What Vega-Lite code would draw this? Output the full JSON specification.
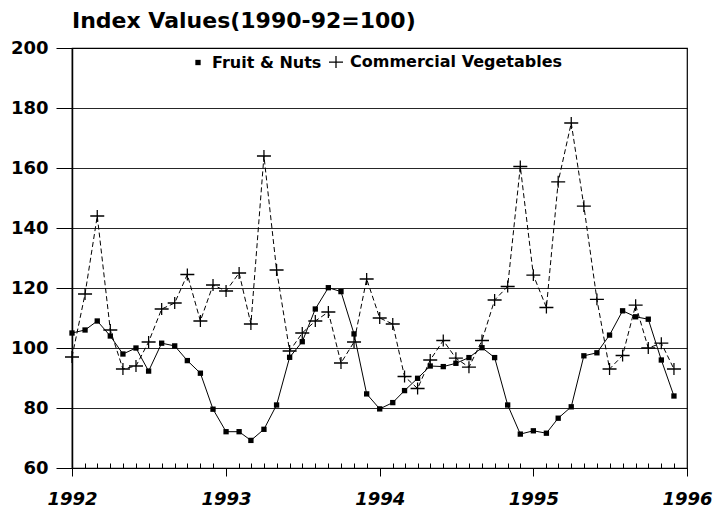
{
  "$schema": "https://vega.github.io/schema/vega-lite/v6.json",
  "width": 615,
  "height": 420,
  "autosize": "none",
  "padding": {"left": 72, "top": 48, "right": 26, "bottom": 48},
  "background": "white",
  "title": {"text": "Index Values(1990-92=100)", "anchor": "start", "frame": "group", "font": "DejaVu Sans", "fontSize": 22, "fontWeight": "bold", "color": "black", "offset": 6},
  "data": {"values": [
    {"date": "1992-01-01", "series": "Fruit & Nuts", "value": 105},
    {"date": "1992-02-01", "series": "Fruit & Nuts", "value": 106},
    {"date": "1992-03-01", "series": "Fruit & Nuts", "value": 109},
    {"date": "1992-04-01", "series": "Fruit & Nuts", "value": 104},
    {"date": "1992-05-01", "series": "Fruit & Nuts", "value": 98},
    {"date": "1992-06-01", "series": "Fruit & Nuts", "value": 100},
    {"date": "1992-07-01", "series": "Fruit & Nuts", "value": 92.3},
    {"date": "1992-08-01", "series": "Fruit & Nuts", "value": 101.6},
    {"date": "1992-09-01", "series": "Fruit & Nuts", "value": 100.7},
    {"date": "1992-10-01", "series": "Fruit & Nuts", "value": 95.8},
    {"date": "1992-11-01", "series": "Fruit & Nuts", "value": 91.6},
    {"date": "1992-12-01", "series": "Fruit & Nuts", "value": 79.6},
    {"date": "1993-01-01", "series": "Fruit & Nuts", "value": 72.1},
    {"date": "1993-02-01", "series": "Fruit & Nuts", "value": 72.1},
    {"date": "1993-03-01", "series": "Fruit & Nuts", "value": 69.2},
    {"date": "1993-04-01", "series": "Fruit & Nuts", "value": 72.9},
    {"date": "1993-05-01", "series": "Fruit & Nuts", "value": 81},
    {"date": "1993-06-01", "series": "Fruit & Nuts", "value": 96.9},
    {"date": "1993-07-01", "series": "Fruit & Nuts", "value": 102.1},
    {"date": "1993-08-01", "series": "Fruit & Nuts", "value": 113},
    {"date": "1993-09-01", "series": "Fruit & Nuts", "value": 120.1},
    {"date": "1993-10-01", "series": "Fruit & Nuts", "value": 118.8},
    {"date": "1993-11-01", "series": "Fruit & Nuts", "value": 104.7},
    {"date": "1993-12-01", "series": "Fruit & Nuts", "value": 84.7},
    {"date": "1994-01-01", "series": "Fruit & Nuts", "value": 79.7},
    {"date": "1994-02-01", "series": "Fruit & Nuts", "value": 81.8},
    {"date": "1994-03-01", "series": "Fruit & Nuts", "value": 85.8},
    {"date": "1994-04-01", "series": "Fruit & Nuts", "value": 89.9},
    {"date": "1994-05-01", "series": "Fruit & Nuts", "value": 94},
    {"date": "1994-06-01", "series": "Fruit & Nuts", "value": 93.8},
    {"date": "1994-07-01", "series": "Fruit & Nuts", "value": 94.9},
    {"date": "1994-08-01", "series": "Fruit & Nuts", "value": 96.8},
    {"date": "1994-09-01", "series": "Fruit & Nuts", "value": 100.1},
    {"date": "1994-10-01", "series": "Fruit & Nuts", "value": 96.8},
    {"date": "1994-11-01", "series": "Fruit & Nuts", "value": 81},
    {"date": "1994-12-01", "series": "Fruit & Nuts", "value": 71.3},
    {"date": "1995-01-01", "series": "Fruit & Nuts", "value": 72.4},
    {"date": "1995-02-01", "series": "Fruit & Nuts", "value": 71.6},
    {"date": "1995-03-01", "series": "Fruit & Nuts", "value": 76.6},
    {"date": "1995-04-01", "series": "Fruit & Nuts", "value": 80.4},
    {"date": "1995-05-01", "series": "Fruit & Nuts", "value": 97.4},
    {"date": "1995-06-01", "series": "Fruit & Nuts", "value": 98.4},
    {"date": "1995-07-01", "series": "Fruit & Nuts", "value": 104.3},
    {"date": "1995-08-01", "series": "Fruit & Nuts", "value": 112.4},
    {"date": "1995-09-01", "series": "Fruit & Nuts", "value": 110.4},
    {"date": "1995-10-01", "series": "Fruit & Nuts", "value": 109.6},
    {"date": "1995-11-01", "series": "Fruit & Nuts", "value": 96},
    {"date": "1995-12-01", "series": "Fruit & Nuts", "value": 84},
    {"date": "1992-01-01", "series": "Commercial Vegetables", "value": 97},
    {"date": "1992-02-01", "series": "Commercial Vegetables", "value": 118},
    {"date": "1992-03-01", "series": "Commercial Vegetables", "value": 144},
    {"date": "1992-04-01", "series": "Commercial Vegetables", "value": 106},
    {"date": "1992-05-01", "series": "Commercial Vegetables", "value": 93},
    {"date": "1992-06-01", "series": "Commercial Vegetables", "value": 94},
    {"date": "1992-07-01", "series": "Commercial Vegetables", "value": 102},
    {"date": "1992-08-01", "series": "Commercial Vegetables", "value": 113},
    {"date": "1992-09-01", "series": "Commercial Vegetables", "value": 115},
    {"date": "1992-10-01", "series": "Commercial Vegetables", "value": 124.5},
    {"date": "1992-11-01", "series": "Commercial Vegetables", "value": 109},
    {"date": "1992-12-01", "series": "Commercial Vegetables", "value": 121},
    {"date": "1993-01-01", "series": "Commercial Vegetables", "value": 119},
    {"date": "1993-02-01", "series": "Commercial Vegetables", "value": 125},
    {"date": "1993-03-01", "series": "Commercial Vegetables", "value": 108},
    {"date": "1993-04-01", "series": "Commercial Vegetables", "value": 164},
    {"date": "1993-05-01", "series": "Commercial Vegetables", "value": 126},
    {"date": "1993-06-01", "series": "Commercial Vegetables", "value": 99},
    {"date": "1993-07-01", "series": "Commercial Vegetables", "value": 105},
    {"date": "1993-08-01", "series": "Commercial Vegetables", "value": 109},
    {"date": "1993-09-01", "series": "Commercial Vegetables", "value": 112},
    {"date": "1993-10-01", "series": "Commercial Vegetables", "value": 95},
    {"date": "1993-11-01", "series": "Commercial Vegetables", "value": 102},
    {"date": "1993-12-01", "series": "Commercial Vegetables", "value": 123},
    {"date": "1994-01-01", "series": "Commercial Vegetables", "value": 110},
    {"date": "1994-02-01", "series": "Commercial Vegetables", "value": 108},
    {"date": "1994-03-01", "series": "Commercial Vegetables", "value": 90.5},
    {"date": "1994-04-01", "series": "Commercial Vegetables", "value": 86.5},
    {"date": "1994-05-01", "series": "Commercial Vegetables", "value": 96},
    {"date": "1994-06-01", "series": "Commercial Vegetables", "value": 102.5},
    {"date": "1994-07-01", "series": "Commercial Vegetables", "value": 96.6},
    {"date": "1994-08-01", "series": "Commercial Vegetables", "value": 93.6},
    {"date": "1994-09-01", "series": "Commercial Vegetables", "value": 102.5},
    {"date": "1994-10-01", "series": "Commercial Vegetables", "value": 116},
    {"date": "1994-11-01", "series": "Commercial Vegetables", "value": 120.5},
    {"date": "1994-12-01", "series": "Commercial Vegetables", "value": 160.5},
    {"date": "1995-01-01", "series": "Commercial Vegetables", "value": 124.3},
    {"date": "1995-02-01", "series": "Commercial Vegetables", "value": 113.5},
    {"date": "1995-03-01", "series": "Commercial Vegetables", "value": 155.4},
    {"date": "1995-04-01", "series": "Commercial Vegetables", "value": 175},
    {"date": "1995-05-01", "series": "Commercial Vegetables", "value": 147.3},
    {"date": "1995-06-01", "series": "Commercial Vegetables", "value": 116.2},
    {"date": "1995-07-01", "series": "Commercial Vegetables", "value": 93},
    {"date": "1995-08-01", "series": "Commercial Vegetables", "value": 97.5},
    {"date": "1995-09-01", "series": "Commercial Vegetables", "value": 114.3},
    {"date": "1995-10-01", "series": "Commercial Vegetables", "value": 100},
    {"date": "1995-11-01", "series": "Commercial Vegetables", "value": 101.6},
    {"date": "1995-12-01", "series": "Commercial Vegetables", "value": 93}
  ]},
  "encoding": {
    "x": {
      "field": "date", "type": "temporal",
      "scale": {"type": "utc", "domain": [{"year": 1992, "month": 1, "date": 1, "utc": true}, {"year": 1996, "month": 1, "date": 1, "utc": true}]},
      "axis": {
        "title": null,
        "grid": false,
        "tickCount": {"interval": "month", "step": 1},
        "labelExpr": "utcmonth(datum.value) == 0 ? utcFormat(datum.value, '%Y') : ''",
        "labelFont": "DejaVu Sans", "labelFontSize": 18, "labelFontWeight": "bold", "labelFontStyle": "italic", "labelColor": "black",
        "labelPadding": 14, "labelOverlap": false, "labelBound": false, "labelFlush": false,
        "tickSize": {"condition": {"test": "utcmonth(datum.value) == 0", "value": 8}, "value": -5},
        "tickColor": "black", "tickWidth": 1,
        "domainColor": "black", "domainWidth": 1
      }
    },
    "y": {
      "field": "value", "type": "quantitative",
      "scale": {"domain": [60, 200], "nice": false, "zero": false},
      "axis": {
        "title": null,
        "values": [60, 80, 100, 120, 140, 160, 180, 200],
        "grid": true, "gridColor": "black", "gridWidth": 1, "gridOpacity": 0.85,
        "tickSize": 16, "tickColor": "black",
        "labelPadding": 8,
        "labelFont": "DejaVu Sans", "labelFontSize": 18, "labelFontWeight": "bold", "labelColor": "black",
        "domainColor": "black", "domainWidth": 1.5
      }
    }
  },
  "layer": [
    {
      "transform": [{"filter": "datum.series === 'Fruit & Nuts'"}],
      "mark": {"type": "line", "color": "black", "strokeWidth": 1}
    },
    {
      "transform": [{"filter": "datum.series === 'Commercial Vegetables'"}],
      "mark": {"type": "line", "color": "black", "strokeWidth": 1, "strokeDash": [5, 3]}
    },
    {
      "mark": {"type": "point", "filled": true, "size": 196, "color": "black", "opacity": 1},
      "encoding": {
        "shape": {
          "field": "series", "type": "nominal",
          "scale": {"domain": ["Fruit & Nuts", "Commercial Vegetables"], "range": ["M-0.38,-0.38h0.76v0.76h-0.76z", "M-1,-0.09H-0.09V-0.85H0.09V-0.09H1V0.09H0.09V0.85H-0.09V0.09H-1Z"]},
          "legend": {
            "orient": "none", "legendX": 118, "legendY": 6, "direction": "horizontal", "title": null,
            "labelFont": "DejaVu Sans", "labelFontSize": 16, "labelFontWeight": "bold", "labelColor": "black", "labelLimit": 400,
            "symbolSize": 196, "symbolFillColor": "black", "symbolOpacity": 1,
            "columnPadding": 4, "labelOffset": 6
          }
        }
      }
    }
  ],
  "config": {
    "view": {"stroke": "black", "strokeWidth": 1.2}
  }
}
